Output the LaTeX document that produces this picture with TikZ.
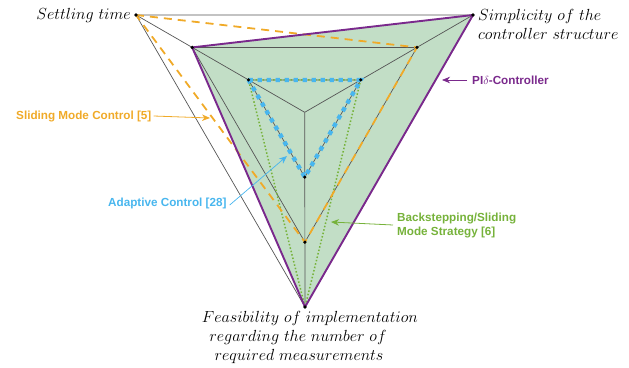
\RequirePackage{fix-cm}
\documentclass[tikz,border=0pt]{standalone}
\usepackage{fontspec}
\newfontfamily\labfont{Liberation Sans}
\usetikzlibrary{arrows.meta,calc}
\definecolor{cpurple}{RGB}{122,41,140}
\definecolor{corange}{RGB}{240,170,40}
\definecolor{cblue}{RGB}{72,182,238}
\definecolor{cgreen}{RGB}{118,178,58}
\definecolor{cfill}{RGB}{194,222,198}
\definecolor{cgrid}{RGB}{85,85,85}
\tikzset{
  grid/.style={draw=cgrid, line width=0.7pt},
  vdot/.style={fill=black},
  axislabel/.style={inner sep=0pt, font=\fontsize{16.1}{18.7}\selectfont},
  lab/.style={inner sep=0pt, font=\labfont\bfseries\fontsize{11.7}{14}\selectfont},
  pointer/.style={line width=0.8pt, -{Stealth[length=8pt,width=6.5pt,inset=2.5pt]}}
}
\begin{document}
\begin{tikzpicture}[x=1pt,y=-1pt]
\useasboundingbox (0,0) rectangle (629,367);
% outer vertices and centre
\coordinate (S) at (136,15);
\coordinate (P) at (473,15);
\coordinate (F) at (305,307);
\coordinate (O) at (304.7,112.3);
% level 2/3
\coordinate (A) at ($(O)!0.667!(S)$);
\coordinate (B) at ($(O)!0.667!(P)$);
\coordinate (C) at ($(O)!0.667!(F)$);
% level 1/3
\coordinate (a) at ($(O)!0.333!(S)$);
\coordinate (b) at ($(O)!0.333!(P)$);
\coordinate (c) at ($(O)!0.333!(F)$);

% PI-delta area fill
\fill[cfill] (A) -- (P) -- (F) -- cycle;

% grid
\draw[grid] (S) -- (P) -- (F) -- cycle;
\draw[grid] (A) -- (B) -- (C) -- cycle;
\draw[grid] (a) -- (b) -- (c) -- cycle;
\draw[grid] (O) -- (S);
\draw[grid] (O) -- (P);
\draw[grid] (O) -- (F);

% Backstepping/Sliding mode
\draw[cgreen, line width=1.5pt, dash pattern=on 1.5pt off 2pt] (a) -- (b) -- (F) -- cycle;
% Sliding mode control
\draw[corange, line width=1.8pt, dash pattern=on 8pt off 6pt] (S) -- (B) -- (C) -- cycle;
% Adaptive control
\draw[cblue, line width=4.3pt, dash pattern=on 4.3pt off 4.7pt] (a) -- (b) -- (c) -- cycle;
% PI-delta controller
\draw[cpurple, line width=1.9pt, line join=round] (A) -- (P) -- (F) -- cycle;

% vertex dots
\foreach \p in {S,P,F,A,B,C,a,b,c} \fill[vdot] (\p) circle (1.8pt);

% axis labels
\node[axislabel, anchor=base east] (lS) at (131,19.3) {$Settling\ time$};
\node[axislabel, anchor=base west, align=left] (lP) at (478,39.5) {$Simplicity\ of\ the$\\$controller\ structure$};
\node[axislabel, anchor=base, align=center] (lF) at (310,360) {$Feasibility\ of\ implementation$\\$regarding\ the\ number\ of$\hspace*{24pt}\mbox{}\\$required\ measurements$\hspace*{22pt}\mbox{}};

% method labels
\node[lab, text=corange, anchor=west] (lSMC) at (16,116) {Sliding Mode Control [5]};
\coordinate (tSMC) at (210,118);
\draw[pointer, corange] (lSMC.east) ++(2pt,0) -- (tSMC);

\node[lab, text=cpurple, anchor=west] (lPI) at (472,80) {PI$\delta$-Controller};
\coordinate (tPI) at (442,80);
\draw[pointer, cpurple] (lPI.west) ++(-5pt,0) -- (tPI);

\node[lab, text=cblue, anchor=west] (lAC) at (108,203) {Adaptive Control [28]};
\coordinate (tAC) at (287,156);
\draw[pointer, cblue, line width=0.7pt] (lAC.east) ++(3pt,-2pt) -- (tAC);

\node[lab, text=cgreen, anchor=west, align=left] (lBS) at (397,225) {Backstepping/Sliding\\Mode Strategy [6]};
\coordinate (tBS) at (331,222);
\draw[pointer, cgreen] (lBS.west) ++(-4pt,0) -- (tBS);
\end{tikzpicture}
\end{document}
